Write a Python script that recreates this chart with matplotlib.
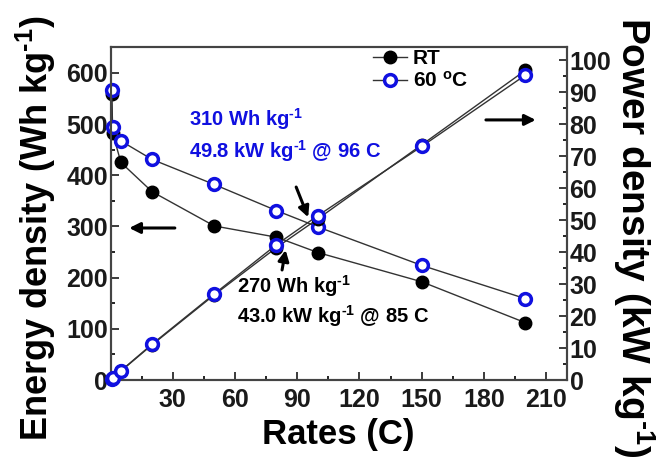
import numpy as np
import matplotlib
matplotlib.use('Agg')
from matplotlib import pyplot as plt
from matplotlib.ticker import MultipleLocator

# data
rates = [0.5, 1, 5, 20, 50, 80, 100, 150, 200]
rt_energy = [559, 483, 425, 368, 301, 279, 249, 192, 112]
hot_energy = [566, 495, 467, 431, 382, 331, 299, 224, 159]
rt_power = [0.3, 0.5, 2.8, 11.0, 26.6, 41.4, 50.4, 73.5, 96.8]
hot_power = [0.3, 0.5, 2.9, 11.2, 26.9, 42.3, 51.4, 73.0, 95.3]
xticks = [30, 60, 90, 120, 150, 180, 210]

plt.rcParams['font.family'] = ['Liberation Sans', 'DejaVu Sans']
plt.rcParams['font.weight'] = 'bold'
plt.rcParams['mathtext.fontset'] = 'custom'
plt.rcParams['mathtext.rm'] = 'Liberation Sans:bold'
plt.rcParams['mathtext.it'] = 'Liberation Sans:bold'
plt.rcParams['mathtext.bf'] = 'Liberation Sans:bold'
plt.rcParams['mathtext.default'] = 'regular'

blue = '#1010e0'
line_c = '#333333'
sup = r'$^{\text{-}1}$'

fig = plt.figure(figsize=(6.7, 4.66), dpi=100)
ax = fig.add_axes([0.165, 0.1845, 0.681, 0.714])
ax2 = ax.twinx()

# energy curves (left axis)
ax.plot(rates, rt_energy, '-o', color=line_c, lw=1, mfc='black', mec='black', ms=9,
        label='RT', zorder=3, clip_on=False)
ax.plot(rates, hot_energy, '-o', color=line_c, lw=1, mfc='white', mec=blue, mew=2.5, ms=8.5,
        label='60 $^{o}$C', zorder=4, clip_on=False)

# power curves (right axis)
ax2.plot(rates, rt_power, '-o', color=line_c, lw=1, mfc='black', mec='black', ms=9, zorder=3, clip_on=False)
ax2.plot(rates, hot_power, '-o', color=line_c, lw=1, mfc='white', mec=blue, mew=2.5, ms=8.5, zorder=4, clip_on=False)

ax.set_xlim(0, 220)
ax.set_ylim(0, 650)
ax2.set_ylim(0, 104)

ax.set_xticks(xticks)
ax.xaxis.set_minor_locator(MultipleLocator(15))
ax.yaxis.set_major_locator(MultipleLocator(100))
ax.yaxis.set_minor_locator(MultipleLocator(50))
ax2.yaxis.set_major_locator(MultipleLocator(10))
ax2.yaxis.set_minor_locator(MultipleLocator(5))

for a in (ax, ax2):
    a.tick_params(which='major', direction='in', length=6, width=1.2, labelsize=18, colors='#1a1a1a')
    a.tick_params(which='minor', direction='in', length=3, width=1.2)
    for s in a.spines.values():
        s.set_linewidth(1.5)
        s.set_color('#444444')
ax.tick_params(axis='x', pad=6)
ax.tick_params(axis='y', pad=2)
ax2.tick_params(axis='y', pad=2)

ax.set_xlabel('Rates (C)', fontsize=25, fontweight='bold', labelpad=4)
ax.set_ylabel('Energy density (Wh kg' + sup + ')', fontsize=26, fontweight='bold',
              va='bottom', rotation_mode='anchor')
ax.yaxis.set_label_coords(-0.115, 0.455)
ax2.set_ylabel('Power density (kW kg' + sup + ')', fontsize=28, fontweight='bold', rotation=270,
               va='bottom', ha='center', rotation_mode='anchor')
ax2.yaxis.set_label_coords(1.097, 0.43)

leg = ax.legend(loc='upper left', bbox_to_anchor=(0.535, 1.05), frameon=False, fontsize=15,
                handlelength=1.6, handletextpad=0.3, labelspacing=0.12)

# annotations
ax.text(38, 510, '310 Wh kg' + sup, color=blue, fontsize=14.5, fontweight='bold', va='center')
ax.text(38, 448, '49.8 kW kg' + sup + ' @ 96 C', color=blue, fontsize=14.5, fontweight='bold', va='center')
ax.text(61, 183, '270 Wh kg' + sup, color='black', fontsize=14.5, fontweight='bold', va='center')
ax.text(61, 125, '43.0 kW kg' + sup + ' @ 85 C', color='black', fontsize=14.5, fontweight='bold', va='center')

arw = dict(arrowstyle='-|>', color='black', lw=2.2, mutation_scale=16, shrinkA=0, shrinkB=0)
ax.annotate('', xy=(9, 297), xytext=(31, 297), arrowprops=arw)
ax2.annotate('', xy=(205, 81.3), xytext=(181, 81.3), arrowprops=arw)
ax.annotate('', xy=(95.3, 318), xytext=(89.5, 377), arrowprops=arw)
ax.annotate('', xy=(84.4, 254), xytext=(82.7, 215), arrowprops=arw)

plt.savefig('out.png', dpi=100)
